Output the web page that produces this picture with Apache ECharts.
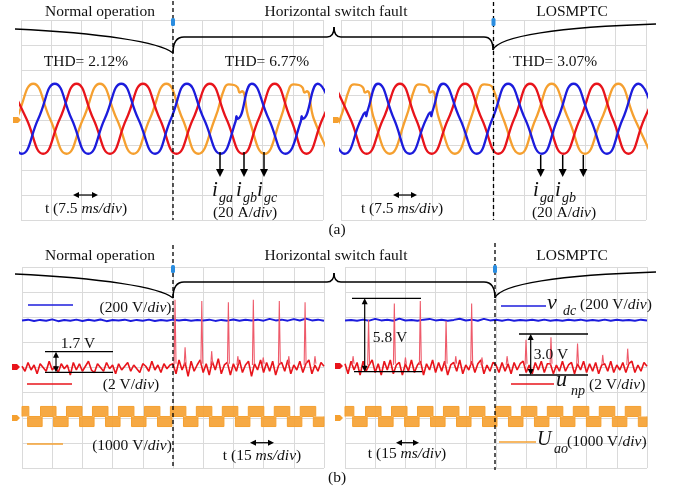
<!DOCTYPE html>
<html>
<head>
<meta charset="utf-8">
<script src="https://cdn.jsdelivr.net/npm/echarts@6/dist/echarts.min.js"></script>
<style>
  html, body { margin: 0; padding: 0; background: #fff; }
  #chart { width: 674px; height: 490px; }
</style>
</head>
<body>
<div id="chart"></div>
<script>
// ---- (a) grid currents, ms / A, key points ----
const tlOrange = [[-5.2,-27],[-1.1,1],[3.05,29],[7.2,1],[11.3,-27],[15.45,1],[19.6,29],[23.75,1],[27.9,-27],[32.0,1],[36.1,29],[40.1,1],[44.0,-27],[48.15,1],[50.6,26],[51.6,28.5],[52.9,28],[53.8,26],[54.3,22],[54.9,23],[56.6,1],[60.5,-27],[64.45,1],[66.7,26],[67.7,28.5],[69.0,28],[69.9,26],[70.4,22],[71.0,23],[72.7,1],[76.6,-27]];
const tlRed = [[-2.8,29],[1.35,1],[5.5,-27],[9.65,1],[13.8,29],[17.95,1],[22.1,-27],[26.2,1],[30.3,29],[34.45,1],[38.6,-27],[42.75,1],[46.9,29],[51.0,1],[55.1,-27],[59.05,1],[63.0,29],[66.95,1],[70.9,-27],[74.9,1],[78.9,29]];
const tlBlue = [[-3.9,1],[0.2,-27],[4.3,1],[8.4,29],[12.55,1],[16.7,-27],[20.8,1],[24.9,29],[29.1,1],[33.3,-27],[37.25,1],[41.2,29],[45.4,1],[49.6,-27],[53.3,-1],[53.5,3],[53.8,1],[57.3,29],[61.5,1],[65.7,-27],[69.5,-1],[69.7,3],[70.0,1],[73.7,29],[77.8,1]];

const trOrange = [[-4.2,-27],[-0.2,1],[2.2,26],[3.2,28.5],[4.5,28],[5.4,26],[5.9,22],[6.5,23],[8.1,1],[12.0,-27],[15.9,1],[18.2,26],[19.2,28.5],[20.5,28],[21.4,26],[21.9,22],[22.5,23],[24.1,1],[28.0,-27],[31.9,1],[34.2,26],[35.2,28.5],[36.5,28],[37.3,26],[39.9,1],[44.0,-27],[47.9,1],[51.8,29],[55.9,1],[60.0,-27],[64.1,1],[68.2,29],[72.2,1],[76.2,-27]];
const trRed = [[-1.7,29],[2.3,1],[6.3,-27],[10.4,1],[14.5,29],[18.4,1],[22.3,-27],[26.4,1],[30.5,29],[34.6,1],[38.7,-27],[42.6,1],[46.5,29],[50.6,1],[54.7,-27],[58.8,1],[62.9,29],[66.8,1],[70.7,-27],[74.6,1],[78.5,29]];
const trBlue = [[-3.2,1],[0.9,-27],[5.0,1],[6.0,6],[6.2,3],[6.5,7],[9.1,29],[13.0,1],[16.9,-27],[21.0,1],[22.0,6],[22.2,3],[22.5,7],[25.1,29],[29.25,1],[33.4,-27],[37.25,1],[41.1,29],[45.25,1],[49.4,-27],[53.3,1],[57.2,29],[61.3,1],[65.4,-27],[69.3,1],[73.2,29],[77.2,1]];

// ---- (b) dc link voltage (V), sampled every 3 ms ----
const blVdc = [800,806,795,804,797,808,794,803,798,806,795,805,797,807,794,803,799,806,795,804,797,806,795,803,798,806,800,805,797,803,799,806,796,804,798,807,797,805,799,806,798,812,800,806,798,810,799,814,800,806,798];
const brVdc = [800,804,797,806,798,812,800,805,797,814,799,804,798,806,812,800,805,797,804,813,799,806,797,812,800,805,798,806,797,804,799,805,797,806,798,804,797,805,799,806,797,804,798,806,797,805,799,804,798,806,800];

// neutral point voltage noise (V), sampled every 1.5 ms
const blUnp = [0.1,-0.3,0.4,-0.2,0.2,-0.5,0.3,0.0,-0.3,0.5,-0.2,0.1,-0.4,0.3,-0.1,0.2,-0.6,0.4,-0.2,0.3,-0.3,0.1,0.5,-0.2,-0.4,0.3,0.0,-0.3,0.4,-0.1,0.2,-0.5,0.3,-0.2,0.1,0.4,-0.3,0.2,-0.1,-0.4,0.3,0.1,-0.3,0.5,-0.2,0.2,-0.4,0.3,-0.1,0.2,
  0.3,-0.5,0.6,-0.2,0.4,-0.7,0.5,-0.3,0.2,0.6,-0.4,0.3,-0.6,0.5,-0.2,0.7,-0.5,0.2,0.4,-0.6,0.3,-0.3,0.6,-0.4,0.2,0.5,-0.7,0.3,-0.2,0.6,-0.4,0.4,-0.3,0.5,-0.6,0.2,0.4,-0.3,0.6,-0.5,0.2,-0.2,0.5,-0.4,0.3,0.6,-0.5,0.2,-0.3,0.4,0.1];
const brUnp = [0.3,-0.5,0.5,-0.2,0.4,-0.6,0.5,-0.3,0.2,0.6,-0.4,0.3,-0.6,0.5,-0.2,0.6,-0.5,0.2,0.4,-0.6,0.3,-0.3,0.6,-0.4,0.2,0.5,-0.6,0.3,-0.2,0.6,-0.4,0.4,-0.3,0.5,-0.6,0.2,0.4,-0.3,0.6,-0.5,0.2,-0.2,0.5,-0.4,0.3,0.6,-0.5,0.2,-0.3,0.4,
  0.2,-0.4,0.4,-0.3,0.3,-0.5,0.4,-0.2,0.3,0.5,-0.4,0.2,-0.5,0.4,-0.2,0.5,-0.4,0.3,0.3,-0.5,0.2,-0.3,0.5,-0.3,0.2,0.4,-0.5,0.3,-0.2,0.5,-0.4,0.3,-0.3,0.4,-0.5,0.2,0.3,-0.3,0.5,-0.4,0.2,-0.2,0.4,-0.4,0.3,0.5,-0.4,0.2,-0.3,0.4,0.1];
// spikes [ms, V]
const blSpikes = [[76.0,5.4],[81.0,1.6],[89.3,5.3],[94.2,1.3],[102.5,5.2],[107.2,0.9],[114.9,5.4],[119.8,0.8],[127.8,5.3],[132.5,0.9],[140.6,5.2],[145.5,0.9]];
const brSpikes = [[4.0,0.9],[11.7,3.8],[24.5,5.1],[30.0,0.8],[37.4,5.3],[50.2,3.7],[55.0,0.9],[62.9,5.1],[68.0,0.8],[80.5,0.9],[89.9,2.2],[102.3,2.4],[115.5,1.9],[128.0,1.0],[140.4,1.5]];

// phase voltage U_ao: intervals [ms] spent on the upper / lower level
const blAoPos = [[0,3.4],[9.2,16.9],[22.1,29.8],[35.0,42.7],[47.9,55.6],[60.8,68.5],[73.7,81.4],[86.6,94.3],[99.5,107.2],[112.4,120.1],[125.3,133.0],[138.2,145.9]];
const blAoNeg = [[2.8,10.0],[15.7,22.9],[28.6,35.8],[41.5,48.7],[54.4,61.6],[67.3,74.5],[80.2,87.4],[93.1,100.3],[106.0,113.2],[118.9,126.1],[131.8,139.0],[144.7,150]];
const brAoPos = [[0,4.4],[10.2,17.9],[23.1,30.8],[36.0,43.7],[48.9,56.6],[61.8,69.5],[74.7,82.4],[87.6,95.3],[100.5,108.2],[113.4,121.1],[126.3,134.0],[139.2,146.9]];
const brAoNeg = [[3.8,11.0],[16.7,23.9],[29.6,36.8],[42.5,49.7],[55.4,62.6],[68.3,75.5],[81.2,88.4],[94.1,101.3],[107.0,114.2],[119.9,127.1],[132.8,140.0],[145.7,150]];
const aoLevel = 400;

const ORANGE = '#f5a030', RED = '#e8141b', PINK = '#ee5a6a', BLUE = '#1c1cdc';
const serif = "'Liberation Serif','Times New Roman',serif";

function sampled(arr, step) { return arr.map((v, i) => [i * step, v]); }
function spikeLine(spikes) {
  const pts = [];
  spikes.forEach(s => { pts.push([s[0] - 0.45, 0.2], [s[0], s[1]], [s[0] + 0.5, 0.3], [s[0] + 0.5, '-']); });
  return pts;
}
function blocks(iv, lvl) {
  const pts = [];
  iv.forEach(b => { pts.push([b[0], 0], [b[0], lvl], [b[1], lvl], [b[1], 0]); });
  return pts;
}

const chart = echarts.init(document.getElementById('chart'));

function xa(g, max, iv) {
  return { type: 'value', gridIndex: g, min: 0, max: max, interval: iv,
    axisLine: { show: false }, axisTick: { show: false }, axisLabel: { show: false },
    splitLine: { show: true, lineStyle: { color: '#dadada', width: 1 } } };
}
function ya(g, min, max, iv, show) {
  return { type: 'value', gridIndex: g, min: min, max: max, interval: iv,
    axisLine: { show: false }, axisTick: { show: false }, axisLabel: { show: false },
    splitLine: { show: show, lineStyle: { color: '#dadada', width: 1 } } };
}
function ln(name, x, y, data, color, w, extra) {
  return Object.assign({ name: name, type: 'line', xAxisIndex: x, yAxisIndex: y, data: data,
    symbol: 'none', lineStyle: { color: color, width: w }, itemStyle: { color: color } }, extra || {});
}

// ---- annotations ----
const G = [];
function T(x, y, text, o) {
  o = o || {};
  const size = o.size || 15.5;
  const style = { text: text, x: x, y: y, fill: '#111',
    font: (o.italic ? 'italic ' : '') + size + 'px ' + serif,
    textAlign: o.align || 'center', textVerticalAlign: 'middle' };
  style.rich = { i: { fontStyle: 'italic', fontFamily: serif, fontSize: size, fill: '#111' } };
  G.push({ type: 'text', z: 100, style: style });
}
function L(x1, y1, x2, y2, w, dash) {
  G.push({ type: 'line', z: 100, shape: { x1, y1, x2, y2 },
    style: { stroke: '#000', lineWidth: w || 1.2, lineDash: dash || null } });
}
function B(x1, y1, cx1, cy1, cx2, cy2, x2, y2) {
  G.push({ type: 'bezierCurve', z: 100, shape: { x1, y1, x2, y2, cpx1: cx1, cpy1: cy1, cpx2: cx2, cpy2: cy2 },
    style: { stroke: '#000', lineWidth: 1.5, fill: null } });
}
function tri(pts, c) { G.push({ type: 'polygon', z: 100, shape: { points: pts }, style: { fill: c || '#000' } }); }
function down(x, y1, y2) { L(x, y1, x, y2 - 6, 1.5); tri([[x - 4, y2 - 8], [x + 4, y2 - 8], [x, y2]]); }
function hArrow(x1, x2, y) { L(x1 + 4, y, x2 - 4, y, 1.2); tri([[x1, y], [x1 + 6, y - 3], [x1 + 6, y + 3]]); tri([[x2, y], [x2 - 6, y - 3], [x2 - 6, y + 3]]); }
function vArrow(x, y1, y2) { L(x, y1 + 4, x, y2 - 4, 1.2); tri([[x, y1], [x - 3, y1 + 6], [x + 3, y1 + 6]]); tri([[x, y2], [x - 3, y2 - 6], [x + 3, y2 - 6]]); }
function brace(y0, yTip, yl, yr, xr) {
  B(15, yl - 24, 100, yl - 20, 160, yl - 11, 173, yl);
  B(173, yl, 173, y0 + 5, 177, y0, 184, y0);
  L(184, y0, 327, y0, 1.5);
  B(327, y0, 332, y0, 334, y0 - 4, 334, yTip);
  B(334, yTip, 334, y0 - 4, 336, y0, 341, y0);
  L(341, y0, 484, y0, 1.5);
  B(484, y0, 491, y0, xr, y0 + 5, xr, yr);
  B(xr, yr, xr + 5, yr - 14, 560, yr - 23, 656, yr - 26);
}
function seg(x1, x2, y, c) { G.push({ type: 'line', z: 100, shape: { x1, y1: y, x2, y2: y }, style: { stroke: c, lineWidth: 1.5 } }); }
function marker(x, y, c) { tri([[x - 3, y - 3], [x + 2, y - 3], [x + 5, y], [x + 2, y + 3], [x - 3, y + 3]], c); }
function trig(x, y) { G.push({ type: 'rect', z: 100, shape: { x: x - 2, y: y - 4, width: 4, height: 8, r: 1.5 }, style: { fill: '#2a8de0' } }); }
function sym(x, y, main, sub, mSize, dx, dy) {
  T(x, y, main, { italic: true, size: mSize, align: 'left' });
  T(x + dx, y + dy, sub, { italic: true, size: 14, align: 'left' });
}

// (a)
T(100, 12, 'Normal operation'); T(336, 12, 'Horizontal switch fault'); T(572, 12, 'LOSMPTC');
brace(37, 27, 53, 50, 493);
L(173, 1, 173, 220, 1.3, [4, 3]); L(493.5, 2, 493.5, 220, 1.3, [4, 3]);
trig(173, 22); trig(493.5, 22);
T(86, 62, 'THD= 2.12%'); T(267, 62, 'THD= 6.77%'); T(555, 62, 'THD= 3.07%');
G.push({ type: 'circle', z: 100, shape: { cx: 510, cy: 57, r: 0.8 }, style: { fill: '#555' } });
marker(16, 120, ORANGE); marker(336, 120, ORANGE);
down(220, 152, 177); down(244, 152, 177); down(264, 152, 177);
down(540.7, 155, 177); down(562.7, 155, 177); down(583.3, 155, 177);
sym(212, 190, 'i', 'ga', 21, 7, 8); sym(236, 190, 'i', 'gb', 21, 7, 8); sym(257, 190, 'i', 'gc', 21, 7, 8);
sym(533, 190, 'i', 'ga', 21, 7, 8); sym(555, 190, 'i', 'gb', 21, 7, 8);
T(245, 213, '(20 A/{i|div})'); T(564, 213, '(20 A/{i|div})');
hArrow(73, 98, 195); hArrow(393, 417, 195);
T(86, 209, 't (7.5 {i|ms/div})'); T(402, 209, 't (7.5 {i|ms/div})');
T(337, 230, '(a)');

// (b)
T(100, 256, 'Normal operation'); T(336, 256, 'Horizontal switch fault'); T(572, 256, 'LOSMPTC');
brace(282, 273, 298, 298, 495);
L(173, 245, 173, 468, 1.3, [4, 3]); L(495, 243, 495, 470, 1.3, [4, 3]);
trig(173, 269); trig(495, 269);
marker(15, 367, RED); marker(15, 418, ORANGE); marker(338, 366, RED); marker(338, 418, ORANGE);
seg(28, 73, 305, BLUE); T(171.5, 308, '(200 V/{i|div})', { align: 'right' });
seg(27, 72, 384, RED); T(131, 385, '(2 V/{i|div})');
seg(27, 63, 444, ORANGE); T(132, 446, '(1000 V/{i|div})');
L(45, 351.7, 113, 351.7, 1.3); L(45, 372.3, 113, 372.3, 1.3); vArrow(56, 351.7, 372.3); T(78, 344, '1.7 V');
L(352, 298.3, 421, 298.3, 1.3); L(354, 371.7, 422, 371.7, 1.3); vArrow(364.7, 298.3, 371.7); T(390, 338, '5.8 V');
L(519, 334, 588, 334, 1.3); L(519, 375, 588, 375, 1.3); vArrow(530.7, 334, 375); T(551, 355, '3.0 V');
seg(501, 546, 306, BLUE); sym(547, 303, 'v', 'dc', 22, 16, 8); T(580, 305, '(200 V/{i|div})', { align: 'left' });
seg(511, 554, 384, RED); sym(556, 380, 'u', 'np', 22, 15, 11); T(589, 385, '(2 V/{i|div})', { align: 'left' });
seg(499, 536, 442, ORANGE); sym(537, 440, 'U', 'ao', 20, 17, 9); T(567, 442, '(1000 V/{i|div})', { align: 'left' });
hArrow(250, 274, 442.7); hArrow(396, 419, 442.7);
T(262, 456, 't (15 {i|ms/div})'); T(407, 454, 't (15 {i|ms/div})');
T(337, 478, '(b)');

const aoArea = { areaStyle: { color: ORANGE, opacity: 0.9, origin: 0 } };
const sm = { smooth: true };
const option = {
  animation: false,
  backgroundColor: '#fff',
  grid: [
    { left: 21, top: 20, width: 302, height: 200 },
    { left: 341, top: 20, width: 305, height: 200 },
    { left: 22, top: 267, width: 302, height: 201 },
    { left: 345, top: 267, width: 302, height: 201 }
  ],
  xAxis: [xa(0, 75, 7.5), xa(1, 75, 7.5), xa(2, 150, 15), xa(3, 150, 15)],
  yAxis: [
    ya(0, -80, 80, 20, true), ya(1, -80, 80, 20, true),
    ya(2, -4, 4, 1, true), ya(2, -375, 1225, 200, false), ya(2, -8, 8, 2, false), ya(2, -2050, 5950, 1000, false),
    ya(3, -4, 4, 1, true), ya(3, -375, 1225, 200, false), ya(3, -8, 8, 2, false), ya(3, -2050, 5950, 1000, false)
  ],
  series: [
    ln('i_gc', 0, 0, tlOrange, ORANGE, 2.3, sm),
    ln('i_gb', 0, 0, tlRed, RED, 2.3, sm),
    ln('i_ga', 0, 0, tlBlue, BLUE, 2.3, sm),
    ln('i_gc', 1, 1, trOrange, ORANGE, 2.3, sm),
    ln('i_gb', 1, 1, trRed, RED, 2.3, sm),
    ln('i_ga', 1, 1, trBlue, BLUE, 2.3, sm),
    ln('U_ao+', 2, 5, blocks(blAoPos, aoLevel), ORANGE, 1, aoArea),
    ln('U_ao-', 2, 5, blocks(blAoNeg, -aoLevel), ORANGE, 1, aoArea),
    ln('v_dc', 2, 3, sampled(blVdc, 3), BLUE, 2),
    ln('u_np', 2, 4, sampled(blUnp, 1.5), RED, 1.6),
    ln('u_np spikes', 2, 4, spikeLine(blSpikes), PINK, 1.1),
    ln('U_ao+', 3, 9, blocks(brAoPos, aoLevel), ORANGE, 1, aoArea),
    ln('U_ao-', 3, 9, blocks(brAoNeg, -aoLevel), ORANGE, 1, aoArea),
    ln('v_dc', 3, 7, sampled(brVdc, 3), BLUE, 2),
    ln('u_np', 3, 8, sampled(brUnp, 1.5), RED, 1.6),
    ln('u_np spikes', 3, 8, spikeLine(brSpikes), PINK, 1.1)
  ],
  graphic: { elements: G }
};
chart.setOption(option);
</script>
</body>
</html>
